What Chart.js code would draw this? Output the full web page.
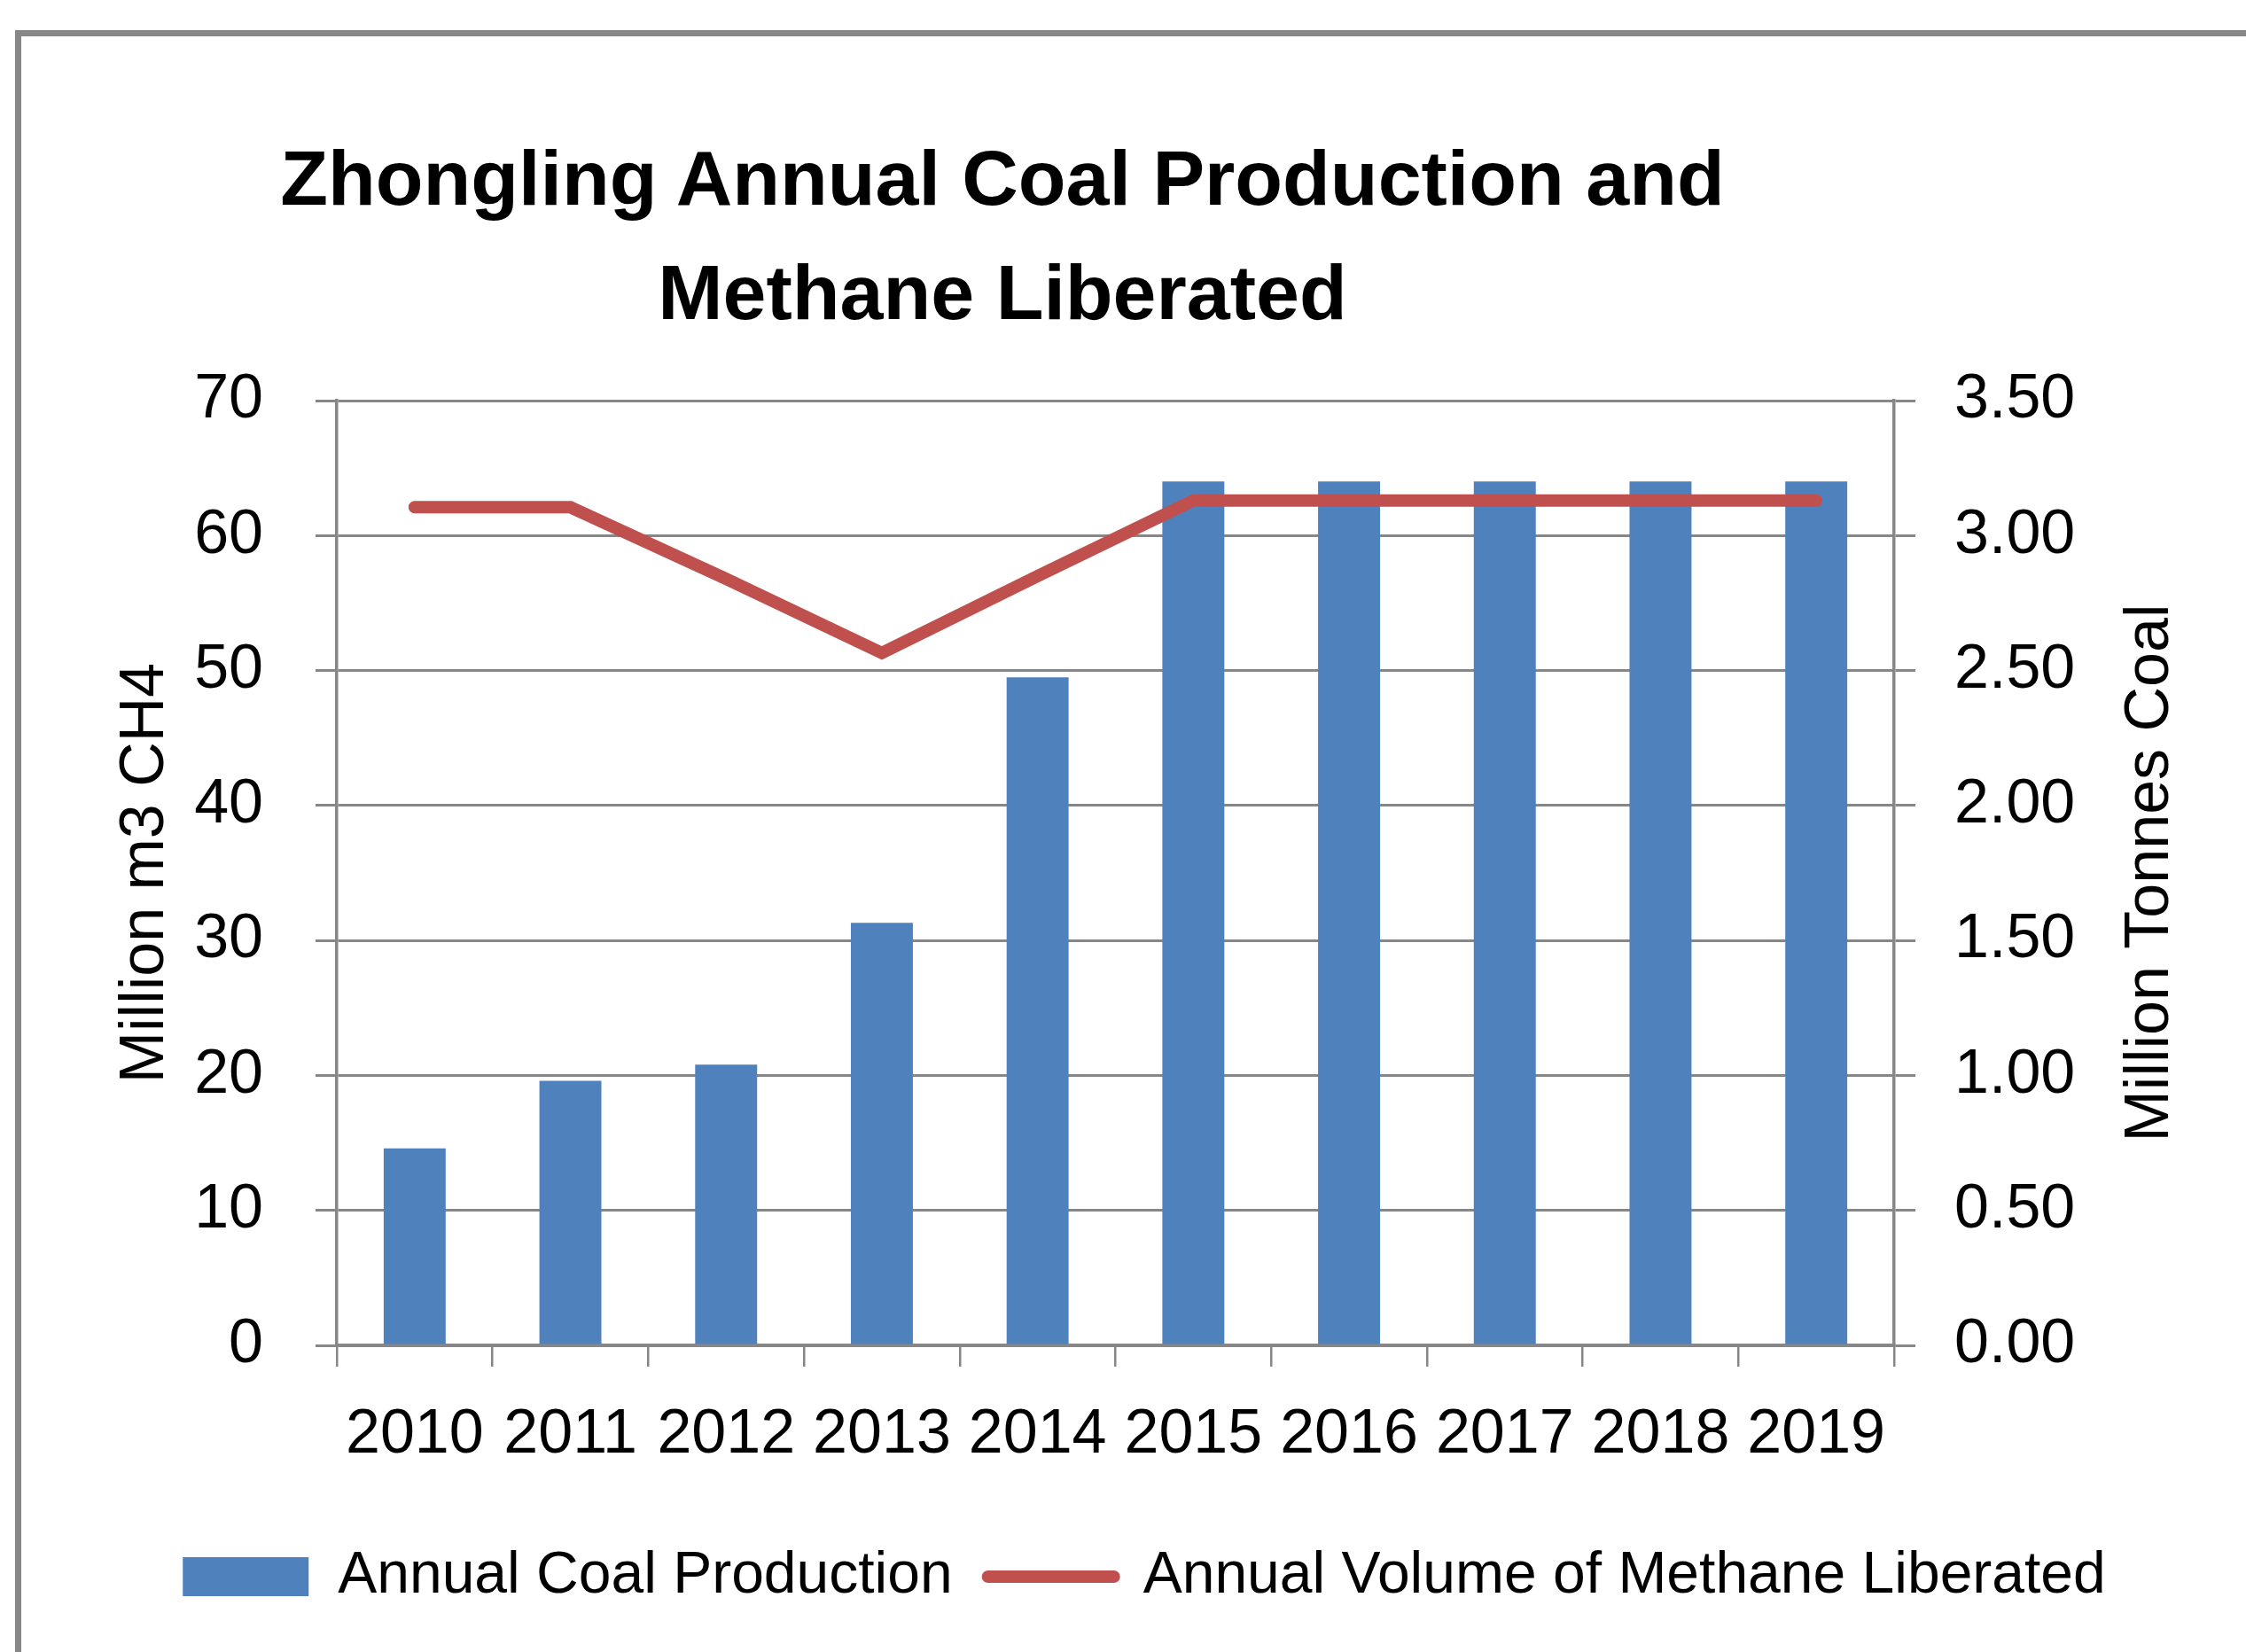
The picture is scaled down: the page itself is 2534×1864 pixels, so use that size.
<!DOCTYPE html>
<html>
<head>
<meta charset="utf-8">
<script src="https://cdn.jsdelivr.net/npm/chart.js@4.4.1/dist/chart.umd.min.js"></script>
<style>
  html, body { margin: 0; padding: 0; background: #fff; overflow: hidden; }
  body { width: 2534px; height: 1864px; position: relative; }
  #frame { position: absolute; left: 17px; top: 34px; width: 3000px; height: 3000px;
           border-top: 7px solid #878787; border-left: 7px solid #878787; box-sizing: border-box; }
  #title { position: absolute; left: 0; top: 136px; width: 2262px; text-align: center;
           font-family: 'Liberation Sans', Arial, sans-serif; font-weight: bold; font-size: 88px;
           line-height: 129px; color: #000; }
  #chart { position: absolute; left: 0; top: 0; }
</style>
</head>
<body>
<div id="frame"></div>
<canvas id="chart" width="2534" height="1864"></canvas>
<div id="title">Zhongling Annual Coal Production and<br>Methane Liberated</div>
<script>
// ---- data ----
const categories = ['2010', '2011', '2012', '2013', '2014', '2015', '2016', '2017', '2018', '2019'];
const coalProduction = [0.73, 0.98, 1.04, 1.565, 2.475, 3.2, 3.2, 3.2, 3.2, 3.2];       // Million Tonnes Coal (right axis)
const methaneLiberated = [62.1, 62.1, 56.8, 51.3, 57.0, 62.6, 62.6, 62.6, 62.6, 62.6];   // Million m3 CH4 (left axis)
const seriesNames = ['Annual Coal Production', 'Annual Volume of Methane Liberated'];
const leftAxisTitle = 'Million m3 CH4';
const rightAxisTitle = 'Million Tonnes Coal';
const leftTicks = { min: 0, max: 70, step: 10 };
const rightTicks = { min: 0, max: 3.5, step: 0.5 };

const BLUE = '#4F81BD';
const RED = '#C0504D';
const GRID = '#878787';
const FONT = 'Liberation Sans';

Chart.defaults.font.family = FONT;
Chart.defaults.color = '#000';

const rightTitlePlugin = {
  id: 'rightTitle',
  afterDraw(chart) {
    const s = chart.scales.y1;
    const ctx = chart.ctx;
    ctx.save();
    ctx.font = '70px "' + FONT + '"';
    ctx.fillStyle = '#000';
    ctx.textAlign = 'center';
    ctx.textBaseline = 'middle';
    const x = s.right - 107;
    const y = (chart.chartArea.top + chart.chartArea.bottom) / 2;
    ctx.translate(x, y);
    ctx.rotate(-Math.PI / 2);
    ctx.fillText(rightAxisTitle, 0, 0);
    ctx.restore();
  }
};

new Chart(document.getElementById('chart'), {
  data: {
    labels: categories,
    datasets: [
      {
        type: 'bar',
        label: seriesNames[0],
        data: coalProduction,
        yAxisID: 'y1',
        backgroundColor: BLUE,
        borderWidth: 0,
        barPercentage: 0.398,
        categoryPercentage: 1.0,
        order: 2
      },
      {
        type: 'line',
        label: seriesNames[1],
        data: methaneLiberated,
        yAxisID: 'y',
        borderColor: RED,
        backgroundColor: RED,
        borderWidth: 14,
        borderCapStyle: 'round',
        borderJoinStyle: 'miter',
        pointRadius: 0,
        tension: 0,
        fill: false,
        order: 1
      }
    ]
  },
  options: {
    responsive: false,
    devicePixelRatio: 1,
    animation: false,
    layout: { padding: { top: 452, left: 48, right: 0, bottom: 42 } },
    plugins: {
      title: { display: false },
      tooltip: { enabled: false },
      legend: {
        display: true,
        position: 'bottom',
        labels: {
          font: { size: 66, family: FONT },
          color: '#000',
          usePointStyle: true,
          pointStyleWidth: 142,
          boxHeight: 44,
          padding: 40,
          generateLabels(chart) {
            return chart.data.datasets.map((ds, i) => ({
              text: ds.label,
              fillStyle: ds.type === 'line' ? ds.borderColor : ds.backgroundColor,
              strokeStyle: ds.type === 'line' ? ds.borderColor : ds.backgroundColor,
              lineWidth: ds.type === 'line' ? 14 : 0,
              lineCap: 'round',
              pointStyle: ds.type === 'line' ? 'line' : 'rect',
              hidden: false,
              datasetIndex: i,
              fontColor: '#000'
            }));
          }
        }
      }
    },
    scales: {
      x: {
        type: 'category',
        offset: true,
        afterFit(s) { s.height = 188; },
        grid: { offset: true, drawOnChartArea: false, drawTicks: true, tickLength: 24, color: GRID, lineWidth: 2.5 },
        border: { display: true, color: GRID, width: 3.5 },
        ticks: { font: { size: 70 }, color: '#000', padding: 36, autoSkip: false, maxRotation: 0, minRotation: 0 }
      },
      y: {
        type: 'linear',
        position: 'left',
        min: leftTicks.min,
        max: leftTicks.max,
        afterFit(s) { s.width = 332; },
        grid: { color: GRID, lineWidth: 3, drawTicks: true, tickLength: 24 },
        border: { display: true, color: GRID, width: 3.5 },
        ticks: { stepSize: leftTicks.step, font: { size: 70 }, color: '#000', padding: 59 },
        title: { display: true, text: leftAxisTitle, font: { size: 70 }, color: '#000', padding: { top: 75, bottom: 0 } }
      },
      y1: {
        type: 'linear',
        position: 'right',
        min: rightTicks.min,
        max: rightTicks.max,
        afterFit(s) { s.width = 397; },
        grid: { drawOnChartArea: false, color: GRID, lineWidth: 3, drawTicks: true, tickLength: 24 },
        border: { display: true, color: GRID, width: 3.5 },
        ticks: { stepSize: rightTicks.step, font: { size: 70 }, color: '#000', padding: 44,
                 callback: (v) => Number(v).toFixed(2) }
      }
    }
  },
  plugins: [rightTitlePlugin]
});
</script>
</body>
</html>
